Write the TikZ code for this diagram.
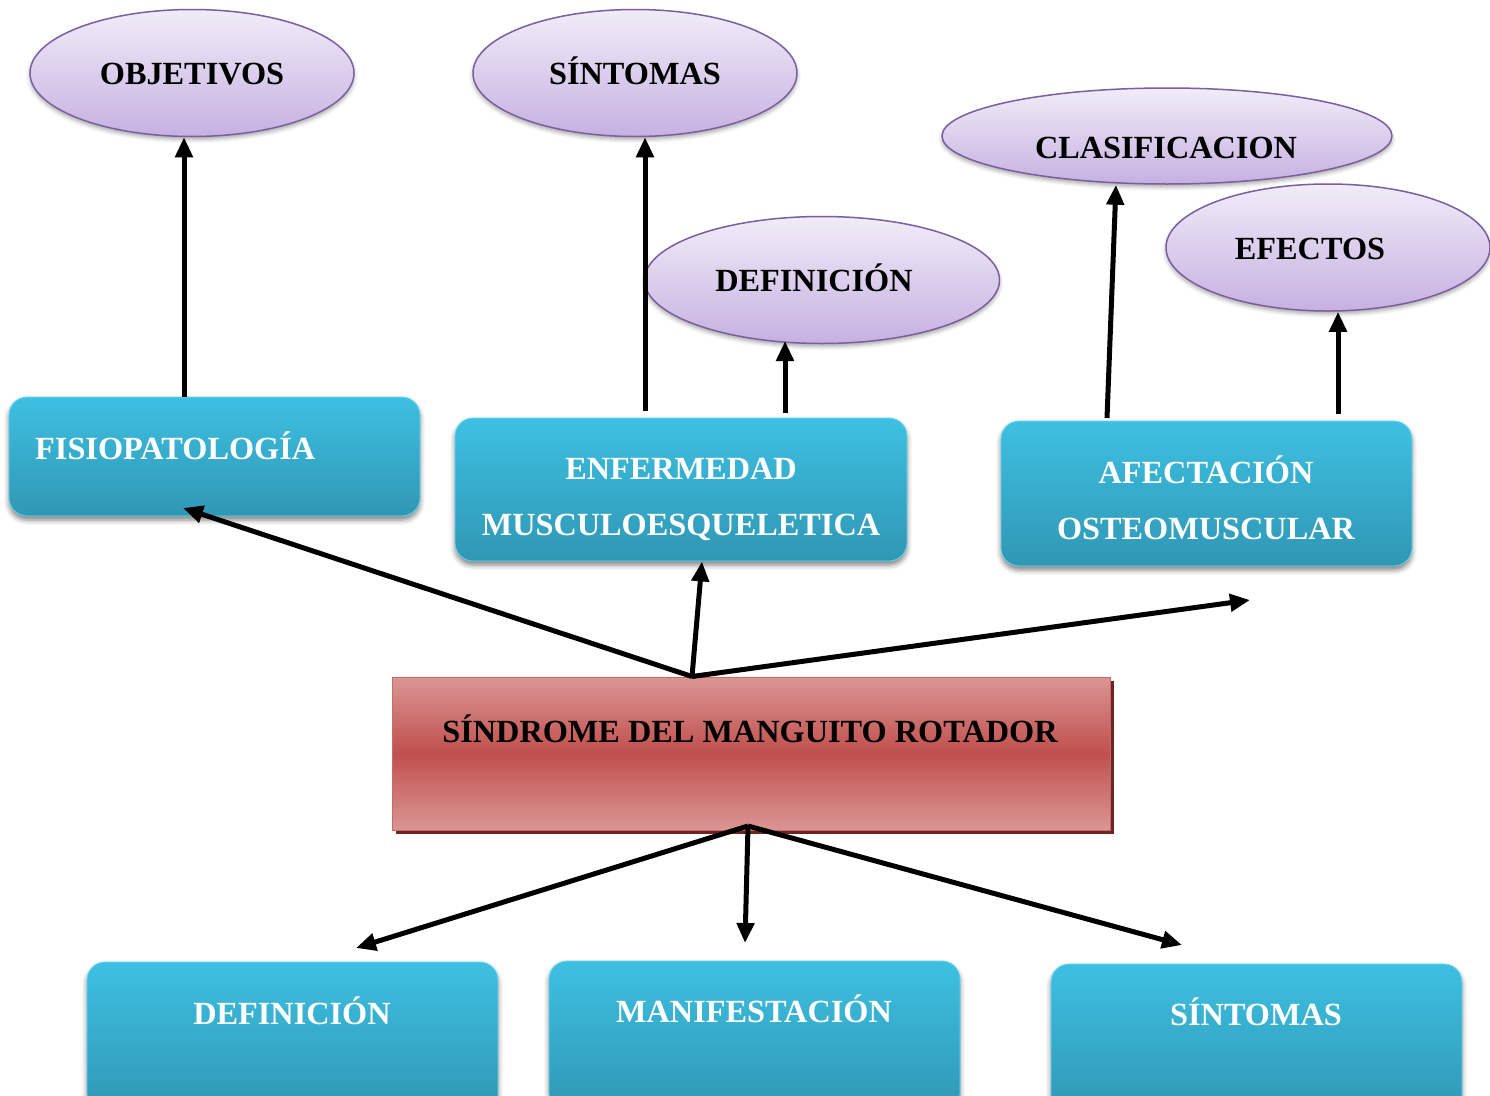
\documentclass[tikz,border=0pt]{standalone}
\usepackage{fontspec}
\setmainfont{Liberation Serif}
\usetikzlibrary{shapes.geometric,arrows.meta,shadows,shadows.blur}
\definecolor{bluetop}{HTML}{3EC0E2}
\definecolor{bluebot}{HTML}{2F97B4}
\definecolor{blueedge}{HTML}{6CD6F0}
\definecolor{purtop}{HTML}{F1ECF8}
\definecolor{purbot}{HTML}{C6B1E1}
\definecolor{purline}{HTML}{7B5FA0}
\definecolor{redlight}{HTML}{DA9694}
\definecolor{redmid}{HTML}{C0504D}
\definecolor{reddark}{HTML}{6B2624}
\begin{document}
\begin{tikzpicture}[x=1pt,y=-1pt,
  bluebox/.style={rectangle, rounded corners=18pt, top color=bluetop, bottom color=bluebot,
    draw=blueedge, line width=0.8pt, inner sep=0pt, minimum width=411pt,
    blur shadow={shadow xshift=0pt, shadow yshift=-4pt, shadow blur radius=5pt, shadow opacity=50}},
  oval/.style={ellipse, top color=purtop, bottom color=purbot, draw=purline, line width=1.5pt,
    inner sep=0pt, minimum width=324pt, minimum height=127pt,
    blur shadow={shadow xshift=0pt, shadow yshift=-3pt, shadow blur radius=4pt, shadow opacity=35}},
  redbox/.style={rectangle, top color=redlight, bottom color=redlight, middle color=redmid,
    draw=redmid!85!white, line width=1pt, inner sep=0pt,
    general shadow={fill=reddark, shadow xshift=4pt, shadow yshift=-4pt}},
  txt/.style={font=\fontsize{32.3}{38}\selectfont\bfseries, inner sep=0pt, anchor=base},
  wtxt/.style={txt, text=white},
  arr/.style={line width=5pt, -{Triangle[length=20pt,width=17pt]}}
]
\useasboundingbox (0,0) rectangle (1490,1095);

% ellipses
\node[oval] (objetivos) at (192,73) {};
\node[oval] (sintomas) at (635,73) {};
\node[oval, minimum width=450pt, minimum height=96pt] (clasif) at (1167,136) {};
\node[oval] (efectos) at (1328,247.5) {};
\node[oval, minimum width=355pt] (defin) at (822,280) {};

\node[txt] (tobj) at (192,84) {OBJETIVOS};
\node[txt] (tsin) at (635,84) {SÍNTOMAS};
\node[txt] (tcla) at (1166,158) {CLASIFICACION};
\node[txt] (tefe) at (1310,259) {EFECTOS};
\node[txt] (tdef) at (814,291) {DEFINICIÓN};

% blue boxes (middle row)
\node[bluebox, minimum height=119pt] (fisio) at (214.5,456.5) {};
\node[bluebox, minimum width=452pt, minimum height=143pt] (enf) at (681,489.5) {};
\node[bluebox, minimum height=145pt] (afect) at (1206.5,493.5) {};

\node[wtxt, anchor=base west] (tfisio) at (35,459) {FISIOPATOLOGÍA};
\node[wtxt] (tenf1) at (681,479) {ENFERMEDAD};
\node[wtxt] (tenf2) at (681,535) {MUSCULOESQUELETICA};
\node[wtxt] (tafe1) at (1206,483) {AFECTACIÓN};
\node[wtxt] (tafe2) at (1206,539) {OSTEOMUSCULAR};

% red box
\node[redbox, minimum width=718pt, minimum height=153pt] (red) at (751,753.5) {};
\node[txt] (tred) at (750,742) {SÍNDROME DEL MANGUITO ROTADOR};

% bottom boxes
\node[bluebox, minimum height=150pt] (bdef) at (292.5,1037) {};
\node[bluebox, minimum height=150pt] (bman) at (754.5,1036) {};
\node[bluebox, minimum height=150pt] (bsin) at (1256.5,1039) {};

\node[wtxt] (tbdef) at (292,1024) {DEFINICIÓN};
\node[wtxt] (tbman) at (754,1022) {MANIFESTACIÓN};
\node[wtxt] (tbsin) at (1256,1025) {SÍNTOMAS};

% upward arrows
\draw[arr] (184,0 |- fisio.north) -- (184,0 |- objetivos.south);
\draw[arr] (645,411) -- (645,0 |- sintomas.south);
\draw[arr] (785,413) -- (785,341);
\draw[arr] (1107,418) -- (1116,0 |- clasif.south);
\draw[arr] (1338,414) -- (1338,0 |- efectos.south);

% fan from red box top
\coordinate (rt) at (692,0 |- red.north);
\coordinate (fisioin) at (183,508);
\coordinate (afectfree) at (1250,600);
\draw[arr] (rt) -- (fisioin);
\draw[arr] (rt) -- (702,0 |- enf.south);
\draw[arr] (rt) -- (afectfree);

% fan from red box bottom
\coordinate (rb) at (748,826);
\coordinate (bdefin) at (356,948);
\coordinate (bmanin) at (745,943);
\coordinate (bsinin) at (1182,945);
\draw[arr] (rb) -- (bdefin);
\draw[arr] (rb) -- (bmanin);
\draw[arr] (rb) -- (bsinin);
\end{tikzpicture}
\end{document}
